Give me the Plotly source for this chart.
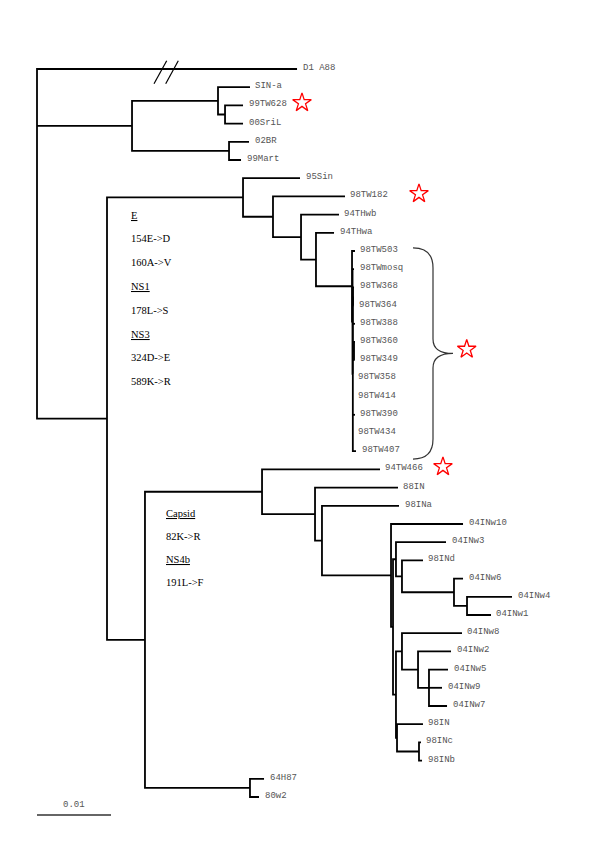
import plotly.graph_objects as go

# ---- tree data: (name, parent, depth in substitutions/site), DFS order ----
node_names = [
    "root", "D1 A88", "nA", "nA1", "SIN-a", "nA1a", "99TW628", "00SriL", "nA2", "02BR", "99Mart",
    "nB", "nE", "95Sin", "nE1", "98TW182", "nE2", "94THwb", "nE3", "94THwa", "nP", "98TW503",
    "nPA", "98TWmosq", "nPB", "nC", "98TW368", "98TW364", "98TW388", "nD", "98TW360", "98TW349",
    "98TW358", "98TW414", "98TW390", "98TW434", "98TW407",
    "nCap", "nC1", "94TW466", "nC2", "88IN", "nC3", "98INa", "nI1", "04INw10", "nI2", "nI3",
    "04INw3", "nI4", "98INd", "nI5", "04INw6", "nI6", "04INw4", "04INw1", "nI7", "nI8", "04INw8",
    "nI9", "04INw2", "nI10", "04INw5", "04INw9", "04INw7", "nI11", "98IN", "nI12", "98INc", "98INb",
    "n64", "64H87", "80w2",
]
node_parents = [
    None, "root", "root", "nA", "nA1", "nA1", "nA1a", "nA1a", "nA", "nA2", "nA2",
    "root", "nB", "nE", "nE", "nE1", "nE1", "nE2", "nE2", "nE3", "nE3", "nP",
    "nP", "nPA", "nPA", "nPB", "nC", "nC", "nPB", "nPB", "nD", "nD",
    "nPB", "nPB", "nPB", "nPB", "nPB",
    "nB", "nCap", "nC1", "nC1", "nC2", "nC2", "nC3", "nC3", "nI1", "nI1", "nI2",
    "nI3", "nI3", "nI4", "nI4", "nI5", "nI5", "nI6", "nI6", "nI2", "nI7", "nI8",
    "nI8", "nI9", "nI9", "nI10", "nI10", "nI10", "nI7", "nI11", "nI11", "nI12", "nI12",
    "nCap", "n64", "n64",
]
node_depths = [
    0.0, 0.03514, 0.01284, 0.02446, 0.02878, 0.02541, 0.02784, 0.02784, 0.02595, 0.02865, 0.02757,
    0.00946, 0.02784, 0.03554, 0.03189, 0.04162, 0.03568, 0.04081, 0.03770, 0.04014, 0.04257, 0.04297,
    0.04264, 0.04284, 0.04268, 0.04270, 0.04284, 0.04277, 0.04297, 0.04284, 0.04297, 0.04291,
    0.04270, 0.04268, 0.04297, 0.04270, 0.04311,
    0.01459, 0.03041, 0.04635, 0.03757, 0.04878, 0.03851, 0.04892, 0.04784, 0.05757, 0.04811, 0.04851,
    0.05527, 0.04932, 0.05216, 0.05635, 0.05757, 0.05811, 0.06419, 0.06135, 0.04851, 0.04932, 0.05743,
    0.05149, 0.05595, 0.05297, 0.05554, 0.05473, 0.05541, 0.04865, 0.05216, 0.05162, 0.05189, 0.05203,
    0.02878, 0.03068, 0.03000,
]

star_leaves = ["99TW628", "98TW182", "94TW466"]
star_depths = [0.03581, 0.05162, 0.05486]
cluster_leaves = ["98TW503", "98TW407"]
cluster_star_depth = 0.05807

mut_E = ["<u>E</u>", "154E-&gt;D", "160A-&gt;V", "<u>NS1</u>", "178L-&gt;S", "<u>NS3</u>", "324D-&gt;E", "589K-&gt;R"]
mut_Cap = ["<u>Capsid</u>", "82K-&gt;R", "<u>NS4b</u>", "191L-&gt;F"]
scale_value = 0.01
scale_label = "0.01"

# ---- layout of the tree ----
depth = dict(zip(node_names, node_depths))
children = {n: [] for n in node_names}
for n, p in zip(node_names, node_parents):
    if p is not None:
        children[p].append(n)
leaves = [n for n in node_names if not children[n]]
ypos = {n: i for i, n in enumerate(leaves)}


def place(n):
    if n in ypos:
        return ypos[n]
    ys = [place(c) for c in children[n]]
    ypos[n] = (ys[0] + ys[-1]) / 2
    return ypos[n]


place("root")

xs, ys = [], []
for n in node_names:
    ch = children[n]
    if not ch:
        continue
    a, b = ch[0], ch[-1]
    xs += [depth[a], depth[n], depth[n], depth[b], None]
    ys += [ypos[a], ypos[a], ypos[b], ypos[b], None]
    for c in ch[1:-1]:
        xs += [depth[n], depth[c], None]
        ys += [ypos[c], ypos[c], None]

PX_PER_UNIT = 7400.0
X0 = 37.0
Y0, DY = 69.0, 18.2
W, H = 600, 848
PAGE_OFF = 8.0  # default body margin of the html page
x_range = [-(X0 - PAGE_OFF) / PX_PER_UNIT, (W - (X0 - PAGE_OFF)) / PX_PER_UNIT]
y_range = [(H - (Y0 - PAGE_OFF)) / DY, -(Y0 - PAGE_OFF) / DY]


def py(p):  # pixel-row to y-axis value
    return (p - Y0) / DY


def px(p):
    return (p - X0) / PX_PER_UNIT


fig = go.Figure()
fig.add_trace(go.Scatter(x=xs, y=ys, mode="lines",
                         line=dict(color="black", width=1.8),
                         hoverinfo="skip", showlegend=False))

# stars
sx = list(star_depths) + [cluster_star_depth]
sy = [ypos[l] - 0.15 for l in star_leaves] + [(ypos[cluster_leaves[0]] + ypos[cluster_leaves[1]]) / 2 - 0.1]
fig.add_trace(go.Scatter(x=sx, y=sy, mode="markers",
                         marker=dict(symbol="star-open", size=14, color="red",
                                     line=dict(color="red", width=1.3)),
                         hoverinfo="skip", showlegend=False))

annotations = []
for l in leaves:
    annotations.append(dict(x=depth[l], y=ypos[l], xref="x", yref="y", text=l,
                            showarrow=False, xanchor="left", yanchor="middle",
                            xshift=3.5, yshift=1,
                            font=dict(family="Liberation Mono", size=9, color="#555")))

for i, t in enumerate(mut_E):
    annotations.append(dict(x=px(129), y=py(215 + i * 23.8), xref="x", yref="y", text=t,
                            showarrow=False, xanchor="left", yanchor="middle",
                            font=dict(family="Liberation Serif", size=10.5, color="black")))
for i, t in enumerate(mut_Cap):
    annotations.append(dict(x=px(164), y=py(513 + i * 23.3), xref="x", yref="y", text=t,
                            showarrow=False, xanchor="left", yanchor="middle",
                            font=dict(family="Liberation Serif", size=10.5, color="black")))

annotations.append(dict(x=scale_value / 2, y=py(805), xref="x", yref="y", text=scale_label,
                        showarrow=False, xanchor="center", yanchor="middle",
                        font=dict(family="Liberation Mono", size=9, color="#555")))

shapes = []
# scale bar
shapes.append(dict(type="line", xref="x", yref="y", x0=0, x1=scale_value,
                   y0=py(815), y1=py(815), line=dict(color="#333", width=1.3)))
# break marks on the outgroup branch
for a, b in [((154, 83.7), (166.7, 60.7)), ((165.7, 83.7), (178.3, 60.7))]:
    shapes.append(dict(type="line", xref="x", yref="y", x0=px(a[0]), y0=py(a[1]),
                       x1=px(b[0]), y1=py(b[1]), line=dict(color="black", width=1.2)))

# curly brace around the 98TW cluster
top = ypos[cluster_leaves[0]] - 0.17
bot = ypos[cluster_leaves[1]] + 0.43
mid = (top + bot) / 2
bx0, bx1, bx2 = px(413), px(433), px(453)
d1 = 1.1
path = (f"M {bx0},{top} Q {bx1},{top} {bx1},{top + d1} "
        f"L {bx1},{mid - 0.8} Q {bx1},{mid} {bx2},{mid} "
        f"Q {bx1},{mid} {bx1},{mid + 0.8} "
        f"L {bx1},{bot - d1} Q {bx1},{bot} {bx0},{bot}")
shapes.append(dict(type="path", xref="x", yref="y", path=path,
                   line=dict(color="#333", width=1.2)))

fig.update_layout(
    width=W, height=H, margin=dict(l=0, r=0, t=0, b=0),
    paper_bgcolor="white", plot_bgcolor="white",
    xaxis=dict(range=x_range, visible=False, fixedrange=True),
    yaxis=dict(range=y_range, visible=False, fixedrange=True),
    annotations=annotations, shapes=shapes,
)
fig.write_html("out.html")
